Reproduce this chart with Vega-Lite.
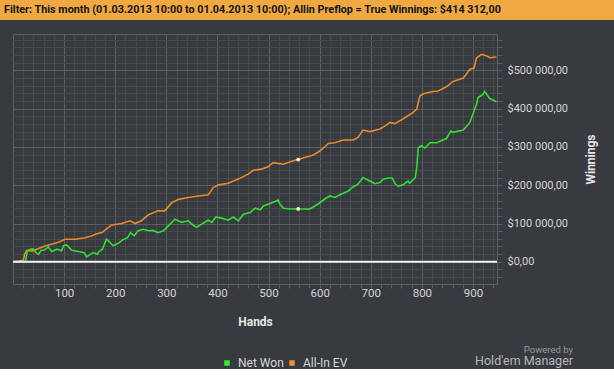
{
  "$schema": "https://vega.github.io/schema/vega-lite/v6.json",
  "background": "#373a3e",
  "padding": {"left": 0, "top": 0, "right": 0, "bottom": 0},
  "autosize": {"type": "pad"},
  "config": {"font": "Roboto", "view": {"stroke": null}, "legend": {"columnPadding": 2, "gridAlign": "none"}},
  "spacing": 13,
  "datasets": {
    "series": [
      {"hands": 0, "value": 0, "series": "All-In EV"},
      {"hands": 12, "value": 2000, "series": "All-In EV"},
      {"hands": 20, "value": 4000, "series": "All-In EV"},
      {"hands": 23, "value": 20000, "series": "All-In EV"},
      {"hands": 27, "value": 30000, "series": "All-In EV"},
      {"hands": 37, "value": 28000, "series": "All-In EV"},
      {"hands": 50, "value": 35000, "series": "All-In EV"},
      {"hands": 63, "value": 41000, "series": "All-In EV"},
      {"hands": 79, "value": 47000, "series": "All-In EV"},
      {"hands": 90, "value": 52000, "series": "All-In EV"},
      {"hands": 102, "value": 59000, "series": "All-In EV"},
      {"hands": 122, "value": 59000, "series": "All-In EV"},
      {"hands": 141, "value": 63000, "series": "All-In EV"},
      {"hands": 155, "value": 68000, "series": "All-In EV"},
      {"hands": 161, "value": 72000, "series": "All-In EV"},
      {"hands": 175, "value": 77000, "series": "All-In EV"},
      {"hands": 180, "value": 83000, "series": "All-In EV"},
      {"hands": 193, "value": 96000, "series": "All-In EV"},
      {"hands": 213, "value": 100000, "series": "All-In EV"},
      {"hands": 229, "value": 107000, "series": "All-In EV"},
      {"hands": 239, "value": 100000, "series": "All-In EV"},
      {"hands": 252, "value": 108000, "series": "All-In EV"},
      {"hands": 265, "value": 123000, "series": "All-In EV"},
      {"hands": 284, "value": 133000, "series": "All-In EV"},
      {"hands": 297, "value": 133000, "series": "All-In EV"},
      {"hands": 311, "value": 155000, "series": "All-In EV"},
      {"hands": 324, "value": 163000, "series": "All-In EV"},
      {"hands": 343, "value": 168000, "series": "All-In EV"},
      {"hands": 363, "value": 172000, "series": "All-In EV"},
      {"hands": 382, "value": 175000, "series": "All-In EV"},
      {"hands": 392, "value": 194000, "series": "All-In EV"},
      {"hands": 402, "value": 201000, "series": "All-In EV"},
      {"hands": 421, "value": 205000, "series": "All-In EV"},
      {"hands": 441, "value": 216000, "series": "All-In EV"},
      {"hands": 460, "value": 229000, "series": "All-In EV"},
      {"hands": 470, "value": 239000, "series": "All-In EV"},
      {"hands": 486, "value": 242000, "series": "All-In EV"},
      {"hands": 499, "value": 248000, "series": "All-In EV"},
      {"hands": 509, "value": 259000, "series": "All-In EV"},
      {"hands": 529, "value": 255000, "series": "All-In EV"},
      {"hands": 548, "value": 264000, "series": "All-In EV"},
      {"hands": 558, "value": 267000, "series": "All-In EV"},
      {"hands": 574, "value": 274000, "series": "All-In EV"},
      {"hands": 588, "value": 279000, "series": "All-In EV"},
      {"hands": 601, "value": 290000, "series": "All-In EV"},
      {"hands": 617, "value": 309000, "series": "All-In EV"},
      {"hands": 630, "value": 311000, "series": "All-In EV"},
      {"hands": 646, "value": 318000, "series": "All-In EV"},
      {"hands": 666, "value": 318000, "series": "All-In EV"},
      {"hands": 675, "value": 325000, "series": "All-In EV"},
      {"hands": 685, "value": 344000, "series": "All-In EV"},
      {"hands": 698, "value": 340000, "series": "All-In EV"},
      {"hands": 718, "value": 347000, "series": "All-In EV"},
      {"hands": 728, "value": 355000, "series": "All-In EV"},
      {"hands": 738, "value": 364000, "series": "All-In EV"},
      {"hands": 747, "value": 361000, "series": "All-In EV"},
      {"hands": 763, "value": 373000, "series": "All-In EV"},
      {"hands": 783, "value": 390000, "series": "All-In EV"},
      {"hands": 790, "value": 399000, "series": "All-In EV"},
      {"hands": 796, "value": 433000, "series": "All-In EV"},
      {"hands": 803, "value": 439000, "series": "All-In EV"},
      {"hands": 822, "value": 445000, "series": "All-In EV"},
      {"hands": 832, "value": 446000, "series": "All-In EV"},
      {"hands": 848, "value": 457000, "series": "All-In EV"},
      {"hands": 861, "value": 471000, "series": "All-In EV"},
      {"hands": 881, "value": 480000, "series": "All-In EV"},
      {"hands": 887, "value": 490000, "series": "All-In EV"},
      {"hands": 894, "value": 503000, "series": "All-In EV"},
      {"hands": 902, "value": 506000, "series": "All-In EV"},
      {"hands": 907, "value": 533000, "series": "All-In EV"},
      {"hands": 917, "value": 542000, "series": "All-In EV"},
      {"hands": 926, "value": 538000, "series": "All-In EV"},
      {"hands": 933, "value": 533000, "series": "All-In EV"},
      {"hands": 946, "value": 535000, "series": "All-In EV"},
      {"hands": 0, "value": 0, "series": "Net Won"},
      {"hands": 24, "value": 0, "series": "Net Won"},
      {"hands": 28, "value": 27000, "series": "Net Won"},
      {"hands": 30, "value": 30000, "series": "Net Won"},
      {"hands": 35, "value": 33000, "series": "Net Won"},
      {"hands": 40, "value": 33000, "series": "Net Won"},
      {"hands": 45, "value": 24000, "series": "Net Won"},
      {"hands": 50, "value": 20000, "series": "Net Won"},
      {"hands": 55, "value": 30000, "series": "Net Won"},
      {"hands": 60, "value": 30000, "series": "Net Won"},
      {"hands": 66, "value": 35000, "series": "Net Won"},
      {"hands": 69, "value": 39000, "series": "Net Won"},
      {"hands": 76, "value": 27000, "series": "Net Won"},
      {"hands": 86, "value": 33000, "series": "Net Won"},
      {"hands": 95, "value": 29000, "series": "Net Won"},
      {"hands": 99, "value": 42000, "series": "Net Won"},
      {"hands": 105, "value": 44000, "series": "Net Won"},
      {"hands": 115, "value": 30000, "series": "Net Won"},
      {"hands": 128, "value": 27000, "series": "Net Won"},
      {"hands": 139, "value": 24000, "series": "Net Won"},
      {"hands": 144, "value": 13000, "series": "Net Won"},
      {"hands": 150, "value": 18000, "series": "Net Won"},
      {"hands": 157, "value": 24000, "series": "Net Won"},
      {"hands": 165, "value": 20000, "series": "Net Won"},
      {"hands": 168, "value": 27000, "series": "Net Won"},
      {"hands": 175, "value": 33000, "series": "Net Won"},
      {"hands": 183, "value": 59000, "series": "Net Won"},
      {"hands": 190, "value": 50000, "series": "Net Won"},
      {"hands": 196, "value": 42000, "series": "Net Won"},
      {"hands": 208, "value": 50000, "series": "Net Won"},
      {"hands": 214, "value": 57000, "series": "Net Won"},
      {"hands": 224, "value": 63000, "series": "Net Won"},
      {"hands": 230, "value": 76000, "series": "Net Won"},
      {"hands": 237, "value": 68000, "series": "Net Won"},
      {"hands": 245, "value": 81000, "series": "Net Won"},
      {"hands": 255, "value": 85000, "series": "Net Won"},
      {"hands": 265, "value": 81000, "series": "Net Won"},
      {"hands": 274, "value": 82000, "series": "Net Won"},
      {"hands": 284, "value": 76000, "series": "Net Won"},
      {"hands": 294, "value": 81000, "series": "Net Won"},
      {"hands": 304, "value": 94000, "series": "Net Won"},
      {"hands": 317, "value": 111000, "series": "Net Won"},
      {"hands": 330, "value": 103000, "series": "Net Won"},
      {"hands": 343, "value": 107000, "series": "Net Won"},
      {"hands": 350, "value": 98000, "series": "Net Won"},
      {"hands": 359, "value": 90000, "series": "Net Won"},
      {"hands": 369, "value": 98000, "series": "Net Won"},
      {"hands": 382, "value": 109000, "series": "Net Won"},
      {"hands": 389, "value": 103000, "series": "Net Won"},
      {"hands": 397, "value": 117000, "series": "Net Won"},
      {"hands": 408, "value": 114000, "series": "Net Won"},
      {"hands": 421, "value": 109000, "series": "Net Won"},
      {"hands": 431, "value": 117000, "series": "Net Won"},
      {"hands": 441, "value": 107000, "series": "Net Won"},
      {"hands": 451, "value": 124000, "series": "Net Won"},
      {"hands": 464, "value": 129000, "series": "Net Won"},
      {"hands": 474, "value": 140000, "series": "Net Won"},
      {"hands": 484, "value": 136000, "series": "Net Won"},
      {"hands": 490, "value": 146000, "series": "Net Won"},
      {"hands": 503, "value": 152000, "series": "Net Won"},
      {"hands": 519, "value": 161000, "series": "Net Won"},
      {"hands": 522, "value": 151000, "series": "Net Won"},
      {"hands": 529, "value": 140000, "series": "Net Won"},
      {"hands": 542, "value": 138000, "series": "Net Won"},
      {"hands": 558, "value": 138000, "series": "Net Won"},
      {"hands": 581, "value": 138000, "series": "Net Won"},
      {"hands": 597, "value": 151000, "series": "Net Won"},
      {"hands": 610, "value": 164000, "series": "Net Won"},
      {"hands": 620, "value": 172000, "series": "Net Won"},
      {"hands": 630, "value": 168000, "series": "Net Won"},
      {"hands": 643, "value": 177000, "series": "Net Won"},
      {"hands": 656, "value": 185000, "series": "Net Won"},
      {"hands": 666, "value": 196000, "series": "Net Won"},
      {"hands": 675, "value": 203000, "series": "Net Won"},
      {"hands": 685, "value": 220000, "series": "Net Won"},
      {"hands": 698, "value": 211000, "series": "Net Won"},
      {"hands": 708, "value": 204000, "series": "Net Won"},
      {"hands": 718, "value": 207000, "series": "Net Won"},
      {"hands": 724, "value": 216000, "series": "Net Won"},
      {"hands": 734, "value": 219000, "series": "Net Won"},
      {"hands": 742, "value": 219000, "series": "Net Won"},
      {"hands": 748, "value": 203000, "series": "Net Won"},
      {"hands": 754, "value": 197000, "series": "Net Won"},
      {"hands": 763, "value": 201000, "series": "Net Won"},
      {"hands": 773, "value": 211000, "series": "Net Won"},
      {"hands": 776, "value": 205000, "series": "Net Won"},
      {"hands": 787, "value": 220000, "series": "Net Won"},
      {"hands": 790, "value": 246000, "series": "Net Won"},
      {"hands": 793, "value": 298000, "series": "Net Won"},
      {"hands": 799, "value": 303000, "series": "Net Won"},
      {"hands": 806, "value": 297000, "series": "Net Won"},
      {"hands": 816, "value": 311000, "series": "Net Won"},
      {"hands": 829, "value": 311000, "series": "Net Won"},
      {"hands": 838, "value": 316000, "series": "Net Won"},
      {"hands": 848, "value": 322000, "series": "Net Won"},
      {"hands": 857, "value": 342000, "series": "Net Won"},
      {"hands": 861, "value": 338000, "series": "Net Won"},
      {"hands": 881, "value": 344000, "series": "Net Won"},
      {"hands": 894, "value": 364000, "series": "Net Won"},
      {"hands": 900, "value": 386000, "series": "Net Won"},
      {"hands": 907, "value": 412000, "series": "Net Won"},
      {"hands": 910, "value": 429000, "series": "Net Won"},
      {"hands": 920, "value": 438000, "series": "Net Won"},
      {"hands": 923, "value": 445000, "series": "Net Won"},
      {"hands": 932, "value": 427000, "series": "Net Won"},
      {"hands": 940, "value": 422000, "series": "Net Won"},
      {"hands": 946, "value": 418000, "series": "Net Won"}
    ],
    "markers": [
      {"hands": 558, "value": 267000, "series": "All-In EV"},
      {"hands": 558, "value": 138000, "series": "Net Won"}
    ]
  },
  "vconcat": [
    {
      "width": 614,
      "height": 20,
      "view": {"fill": "#f0a942", "stroke": null},
      "data": {"values": [{}]},
      "mark": {"type": "text", "text": ""},
      "title": {
        "text": "Filter: This month (01.03.2013 10:00 to 01.04.2013 10:00); Allin Preflop = True Winnings: $414 312,00",
        "orient": "top",
        "anchor": "start",
        "frame": "group",
        "offset": -15,
        "dx": 4,
        "font": "Roboto",
        "fontSize": 10.8,
        "fontWeight": "bold",
        "color": "#141414"
      }
    },
    {
      "spacing": 8,
      "hconcat": [
        {
          "width": 1,
          "height": 1,
          "data": {"values": []},
          "mark": "point",
          "view": {"stroke": null}
        },
        {
          "width": 484,
          "height": 250,
          "view": {"stroke": "#5b5e62", "strokeWidth": 1},
          "title": {
            "text": "Powered by",
            "subtitle": "Hold'em Manager",
            "orient": "bottom",
            "anchor": "end",
            "frame": "group",
            "offset": 17,
            "dx": 76,
            "font": "Roboto",
            "fontSize": 9.5,
            "fontWeight": "normal",
            "color": "#9a9a9a",
            "subtitleFont": "Roboto",
            "subtitleFontSize": 12.5,
            "subtitleColor": "#b8b8b8",
            "subtitlePadding": 1
          },
          "layer": [
            {
              "data": {"name": "series"},
              "mark": {"type": "line", "strokeWidth": 1.6},
              "encoding": {
                "x": {
                  "field": "hands",
                  "type": "quantitative",
                  "scale": {"domain": [0, 947], "nice": false, "zero": false},
                  "axis": {
                    "values": [20, 40, 60, 80, 100, 120, 140, 160, 180, 200, 220, 240, 260, 280, 300, 320, 340, 360, 380, 400, 420, 440, 460, 480, 500, 520, 540, 560, 580, 600, 620, 640, 660, 680, 700, 720, 740, 760, 780, 800, 820, 840, 860, 880, 900, 920, 940],
                    "tickCount": 200,
                    "labelExpr": "datum.value % 100 === 0 ? '' + datum.value : ''",
                    "labelOverlap": false,
                    "labelFlush": false,
                    "grid": true,
                    "gridColor": {"condition": {"test": "datum.value % 100 === 0", "value": "#5b5e62"}, "value": "#46494d"},
                    "gridWidth": 1,
                    "domain": false,
                    "tickSize": 4,
                    "tickColor": "#5b5e62",
                    "labelColor": "#d6d6d6",
                    "labelFont": "Roboto",
                    "labelFontSize": 11.5,
                    "labelPadding": -1,
                    "title": "Hands",
                    "titleColor": "#e6e6e6",
                    "titleFont": "Roboto",
                    "titleFontSize": 12,
                    "titleFontWeight": "bold",
                    "titlePadding": 18
                  }
                },
                "y": {
                  "field": "value",
                  "type": "quantitative",
                  "scale": {"domain": [-58000, 595000], "nice": false, "zero": false},
                  "axis": {
                    "orient": "right",
                    "values": [-40000, -20000, 0, 20000, 40000, 60000, 80000, 100000, 120000, 140000, 160000, 180000, 200000, 220000, 240000, 260000, 280000, 300000, 320000, 340000, 360000, 380000, 400000, 420000, 440000, 460000, 480000, 500000, 520000, 540000, 560000, 580000],
                    "tickCount": 200,
                    "labelExpr": "datum.value % 100000 === 0 ? (datum.value === 0 ? '$0,00' : '$' + (datum.value / 1000) + ' 000,00') : ''",
                    "labelOverlap": false,
                    "labelFlush": false,
                    "grid": true,
                    "gridColor": {"condition": {"test": "datum.value % 100000 === 0", "value": "#5b5e62"}, "value": "#46494d"},
                    "gridWidth": 1,
                    "domain": false,
                    "tickSize": 5,
                    "tickColor": "#5b5e62",
                    "labelColor": "#d6d6d6",
                    "labelFont": "Roboto",
                    "labelFontSize": 11,
                    "labelPadding": 5,
                    "title": "Winnings",
                    "titleAngle": 270,
                    "titleBaseline": "top",
                    "titleColor": "#e6e6e6",
                    "titleFont": "Roboto",
                    "titleFontSize": 12,
                    "titleFontWeight": "bold",
                    "titlePadding": 18
                  }
                },
                "color": {
                  "field": "series",
                  "type": "nominal",
                  "scale": {"domain": ["Net Won", "All-In EV"], "range": ["#33dd33", "#e8892c"]},
                  "legend": {
                    "orient": "none",
                    "legendX": 221,
                    "legendY": 357,
                    "direction": "horizontal",
                    "gridAlign": "none",
                    "title": null,
                    "padding": 0,
                    "symbolType": "square",
                    "symbolSize": 30,
                    "symbolStrokeWidth": 0,
                    "labelColor": "#d8d8d8",
                    "labelFont": "Roboto",
                    "labelFontSize": 12,
                    "labelOffset": 5,
                    "columnPadding": 2,
                    "encode": {
                      "symbols": {
                        "update": {
                          "fill": {"signal": "datum.value === 'Net Won' ? '#33ee33' : '#f0923a'"},
                          "stroke": {"value": "transparent"}
                        }
                      }
                    }
                  }
                }
              }
            },
            {
              "data": {"values": [{}]},
              "mark": {"type": "rule", "color": "#f2f2f2", "strokeWidth": 2},
              "encoding": {"y": {"datum": 0}}
            },
            {
              "data": {"name": "markers"},
              "mark": {"type": "point", "filled": true, "color": "#fff6dc", "size": 14, "opacity": 1},
              "encoding": {
                "x": {"field": "hands", "type": "quantitative"},
                "y": {"field": "value", "type": "quantitative"}
              }
            }
          ]
        }
      ]
    }
  ]
}
